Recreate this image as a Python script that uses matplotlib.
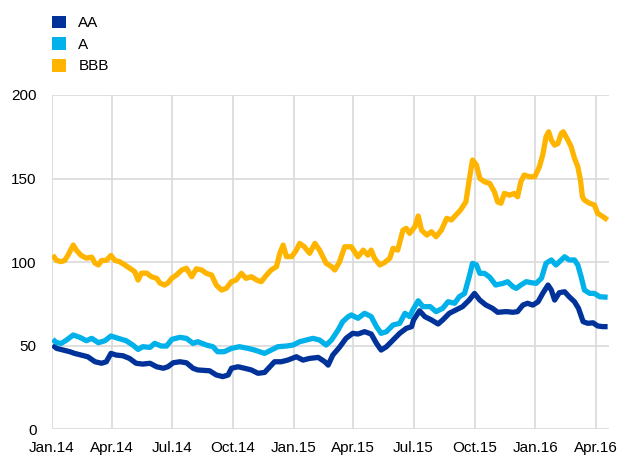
import pandas as pd
import matplotlib
matplotlib.use("Agg")
import matplotlib.pyplot as plt
from matplotlib.patches import Patch

plt.rcParams['font.family'] = ['Liberation Sans', 'DejaVu Sans']

# BBB spread (basis points)
bbb_dates = [
    "2014-01-02", "2014-01-08", "2014-01-15", "2014-01-20", "2014-01-25", "2014-02-02",
    "2014-02-07", "2014-02-14", "2014-02-22", "2014-03-02", "2014-03-07", "2014-03-12",
    "2014-03-17", "2014-03-24", "2014-03-31", "2014-04-06", "2014-04-13", "2014-04-21",
    "2014-04-28", "2014-05-06", "2014-05-11", "2014-05-16", "2014-05-24", "2014-05-31",
    "2014-06-08", "2014-06-13", "2014-06-20", "2014-06-25", "2014-07-01", "2014-07-08",
    "2014-07-16", "2014-07-23", "2014-07-31", "2014-08-07", "2014-08-15", "2014-08-22",
    "2014-08-30", "2014-09-06", "2014-09-14", "2014-09-21", "2014-09-29", "2014-10-06",
    "2014-10-14", "2014-10-21", "2014-10-29", "2014-11-06", "2014-11-13", "2014-11-21",
    "2014-11-28", "2014-12-06", "2014-12-11", "2014-12-16", "2014-12-21", "2014-12-29",
    "2015-01-05", "2015-01-10", "2015-01-17", "2015-01-25", "2015-02-02", "2015-02-09",
    "2015-02-19", "2015-02-27", "2015-03-04", "2015-03-11", "2015-03-19", "2015-03-29",
    "2015-04-03", "2015-04-08", "2015-04-16", "2015-04-23", "2015-04-28", "2015-05-03",
    "2015-05-11", "2015-05-18", "2015-05-26", "2015-05-31", "2015-06-07", "2015-06-15",
    "2015-06-20", "2015-06-25", "2015-07-03", "2015-07-08", "2015-07-13", "2015-07-21",
    "2015-07-28", "2015-08-04", "2015-08-12", "2015-08-20", "2015-08-27", "2015-09-03",
    "2015-09-10", "2015-09-18", "2015-09-23", "2015-09-28", "2015-10-04", "2015-10-09",
    "2015-10-16", "2015-10-24", "2015-10-31", "2015-11-05", "2015-11-10", "2015-11-15",
    "2015-11-23", "2015-11-30", "2015-12-05", "2015-12-10", "2015-12-15", "2015-12-23",
    "2015-12-31", "2016-01-07", "2016-01-12", "2016-01-17", "2016-01-21", "2016-01-25",
    "2016-01-30", "2016-02-04", "2016-02-09", "2016-02-12", "2016-02-19", "2016-02-24",
    "2016-02-29", "2016-03-05", "2016-03-09", "2016-03-12", "2016-03-15", "2016-03-23",
    "2016-03-30", "2016-04-04", "2016-04-12", "2016-04-19",
]
bbb_vals = [
    104.2, 101, 100.3, 101, 104, 110.2,
    107, 104, 102.4, 103, 99.4, 98.3,
    101, 101, 104, 101, 100.3, 98.3,
    96.4, 94.3, 89.3, 93.4, 93.4, 91.3,
    90.3, 87.5, 86.3, 87.5, 90.4, 92.3,
    95.3, 96.3, 91.3, 96, 95.3, 93.3,
    92.3, 86.3, 83.3, 84.3, 88.3, 89.3,
    93.3, 90.3, 91.3, 89.3, 88.3, 92.3,
    95.3, 97.3, 105.3, 110.2, 103.3, 103.3,
    107.2, 111.2, 109.2, 105.3, 111.2, 107.2,
    99.3, 97.3, 95.3, 100, 109.2, 109.2,
    106.2, 103.2, 107.2, 104.2, 107.2, 102.3,
    98.3, 99.7, 102.3, 108.3, 107.2, 119.2,
    120.2, 117.2, 121.2, 127.6, 119.2, 116.2,
    118.2, 115.2, 119.2, 126.2, 125.2, 128.2,
    131.2, 136.1, 149.1, 161.1, 158.1, 150.1,
    148.1, 147.1, 142.1, 136, 135.2, 141.1,
    140.1, 141.1, 139.1, 148.1, 152.1, 151.1,
    151.1, 157.1, 164.1, 175, 178, 173,
    170, 171, 177, 178, 173, 169,
    162.1, 157.1, 149.1, 139.1, 137.1, 135.2,
    134.2, 129.2, 127.2, 125.2,
]

# A spread
a_dates = [
    "2014-01-02", "2014-01-08", "2014-01-15", "2014-01-23", "2014-02-02", "2014-02-12",
    "2014-02-22", "2014-03-02", "2014-03-12", "2014-03-22", "2014-03-31", "2014-04-11",
    "2014-04-23", "2014-05-03", "2014-05-11", "2014-05-18", "2014-05-29", "2014-06-05",
    "2014-06-15", "2014-06-23", "2014-07-01", "2014-07-13", "2014-07-23", "2014-08-02",
    "2014-08-09", "2014-08-22", "2014-09-01", "2014-09-08", "2014-09-18", "2014-09-29",
    "2014-10-11", "2014-10-24", "2014-11-03", "2014-11-18", "2014-11-28", "2014-12-08",
    "2014-12-21", "2014-12-31", "2015-01-10", "2015-01-20", "2015-01-30", "2015-02-09",
    "2015-02-19", "2015-02-27", "2015-03-09", "2015-03-16", "2015-03-24", "2015-03-29",
    "2015-04-08", "2015-04-18", "2015-04-28", "2015-05-06", "2015-05-13", "2015-05-21",
    "2015-05-31", "2015-06-10", "2015-06-18", "2015-06-25", "2015-06-30", "2015-07-08",
    "2015-07-15", "2015-07-26", "2015-08-04", "2015-08-14", "2015-08-22", "2015-09-01",
    "2015-09-08", "2015-09-16", "2015-09-23", "2015-09-28", "2015-10-04", "2015-10-09",
    "2015-10-16", "2015-10-24", "2015-11-02", "2015-11-13", "2015-11-20", "2015-11-28",
    "2015-12-03", "2015-12-10", "2015-12-18", "2015-12-26", "2016-01-02", "2016-01-10",
    "2016-01-17", "2016-01-25", "2016-02-01", "2016-02-09", "2016-02-14", "2016-02-21",
    "2016-02-29", "2016-03-05", "2016-03-10", "2016-03-15", "2016-03-23", "2016-03-30",
    "2016-04-07", "2016-04-19",
]
a_vals = [
    53.8, 51.8, 51.4, 53.4, 56.4, 55,
    53, 54.4, 51.8, 53, 55.8, 54.4,
    53, 50.4, 47.8, 49.4, 49, 51.4,
    49.8, 49.8, 53.8, 55, 54.4, 51.4,
    52.4, 50.4, 49.4, 46.4, 46.4, 48.4,
    49.4, 48.4, 47.4, 45.4, 47.4, 49.4,
    49.8, 50.4, 52.4, 53.4, 54.4, 53.4,
    50.4, 53.4, 59.4, 64.4, 67.3, 68.4,
    66.4, 69.4, 67.4, 61.4, 57.4, 58.4,
    62.4, 63.4, 69.4, 67.4, 71.4, 76.9,
    73.4, 73.4, 70.4, 72.4, 76.3, 75.4,
    79.3, 81.3, 91.3, 99.3, 98.3, 93.3,
    93.3, 91, 86.3, 87.3, 88.3, 85.3,
    84.3, 86.3, 88.3, 87.7, 87.3, 90.3,
    99.3, 101.3, 98.3, 101.3, 103.2, 101.3,
    101.3, 98.3, 91.3, 83.3, 81.3, 81.3,
    79.3, 79,
]

# AA spread
aa_dates = [
    "2014-01-02", "2014-01-08", "2014-01-18", "2014-01-28", "2014-02-04", "2014-02-14",
    "2014-02-24", "2014-03-07", "2014-03-17", "2014-03-24", "2014-03-31", "2014-04-08",
    "2014-04-18", "2014-04-28", "2014-05-08", "2014-05-18", "2014-05-29", "2014-06-08",
    "2014-06-18", "2014-06-25", "2014-07-03", "2014-07-13", "2014-07-23", "2014-08-02",
    "2014-08-09", "2014-08-27", "2014-09-06", "2014-09-16", "2014-09-24", "2014-09-29",
    "2014-10-09", "2014-10-19", "2014-10-29", "2014-11-08", "2014-11-18", "2014-11-26",
    "2014-12-03", "2014-12-13", "2014-12-23", "2015-01-05", "2015-01-15", "2015-01-25",
    "2015-02-07", "2015-02-17", "2015-02-22", "2015-03-01", "2015-03-11", "2015-03-21",
    "2015-03-31", "2015-04-08", "2015-04-18", "2015-04-28", "2015-05-06", "2015-05-13",
    "2015-05-21", "2015-05-31", "2015-06-10", "2015-06-20", "2015-06-28", "2015-07-01",
    "2015-07-10", "2015-07-18", "2015-07-28", "2015-08-07", "2015-08-14", "2015-08-24",
    "2015-09-03", "2015-09-13", "2015-09-23", "2015-10-01", "2015-10-09", "2015-10-18",
    "2015-10-28", "2015-11-05", "2015-11-18", "2015-11-28", "2015-12-05", "2015-12-13",
    "2015-12-20", "2015-12-28", "2016-01-05", "2016-01-12", "2016-01-20", "2016-01-25",
    "2016-01-30", "2016-02-06", "2016-02-14", "2016-02-21", "2016-02-29", "2016-03-06",
    "2016-03-13", "2016-03-20", "2016-03-28", "2016-04-04", "2016-04-12", "2016-04-19",
]
aa_vals = [
    50.4, 48.4, 47.4, 46.4, 45.4, 44.4,
    43.4, 40.4, 39.5, 40.4, 45.4, 44.4,
    44, 42.4, 39.5, 39, 39.5, 37.4,
    36.5, 37.4, 39.8, 40.4, 39.8, 36.5,
    35.5, 35, 32.5, 31.5, 32.5, 36.5,
    37.4, 36.5, 35.5, 33.5, 34, 37.4,
    40.4, 40.4, 41.4, 43.4, 41.4, 42.4,
    43, 40.4, 38.4, 44.4, 49, 54.4,
    57.4, 57, 58.4, 57, 51.4, 47.4,
    49.4, 53.4, 57.4, 60.4, 61.4, 65.4,
    70.9, 67.4, 65.4, 63, 65.4, 69.4,
    71.4, 73.4, 77.3, 81.3, 77.3, 74.4,
    72.4, 70, 70.4, 70, 70.4, 74.3,
    75.4, 74.3, 76.3, 81.3, 86.3, 83.3,
    77.3, 81.7, 82.3, 79.3, 76.3, 72.4,
    64.4, 63.4, 63.7, 61.8, 61.4, 61.4,
]

series_names = ["AA", "A", "BBB"]
series_colors = ["#003299", "#00b1ea", "#ffb400"]

tick_dates = ["2014-01-01", "2014-04-01", "2014-07-01", "2014-10-01", "2015-01-01",
              "2015-04-01", "2015-07-01", "2015-10-01", "2016-01-01", "2016-04-01"]
tick_labels = ["Jan.14", "Apr.14", "Jul.14", "Oct.14", "Jan.15",
               "Apr.15", "Jul.15", "Oct.15", "Jan.16", "Apr.16"]
y_ticks = [0, 50, 100, 150, 200]

fig = plt.figure(figsize=(6.22, 4.58), dpi=100)
ax = fig.add_axes([0.0836, 0.0627, 0.979 - 0.0836, 0.7926 - 0.0627])

data = [(aa_dates, aa_vals), (a_dates, a_vals), (bbb_dates, bbb_vals)]
for (d, v), name, col in zip(data, series_names, series_colors):
    ax.plot(pd.to_datetime(d), v, color=col, lw=3.8, label=name,
            solid_joinstyle='round', solid_capstyle='butt')

ax.set_xlim(pd.Timestamp("2014-01-01"), pd.Timestamp("2016-04-21"))
ax.set_ylim(0, 200)
ax.set_xticks(pd.to_datetime(tick_dates))
ax.set_xticklabels(tick_labels)
ax.set_yticks(y_ticks)
ax.grid(True, color="#d9d9d9", lw=1.2)
ax.set_axisbelow(True)
for s in ax.spines.values():
    s.set_visible(False)
ax.tick_params(length=0, labelsize=11, colors="#000000")
ax.tick_params(axis='x', pad=8.5)
ax.tick_params(axis='y', pad=11)

handles = [Patch(facecolor=c, edgecolor='none') for c in series_colors]
fig.legend(handles, series_names, loc='upper left', bbox_to_anchor=(0.0836, 0.966),
           frameon=False, fontsize=11, handlelength=0.92, handleheight=0.92,
           handletextpad=0.8, labelspacing=0.45, borderpad=0, borderaxespad=0)

fig.savefig("out.png", dpi=100)
